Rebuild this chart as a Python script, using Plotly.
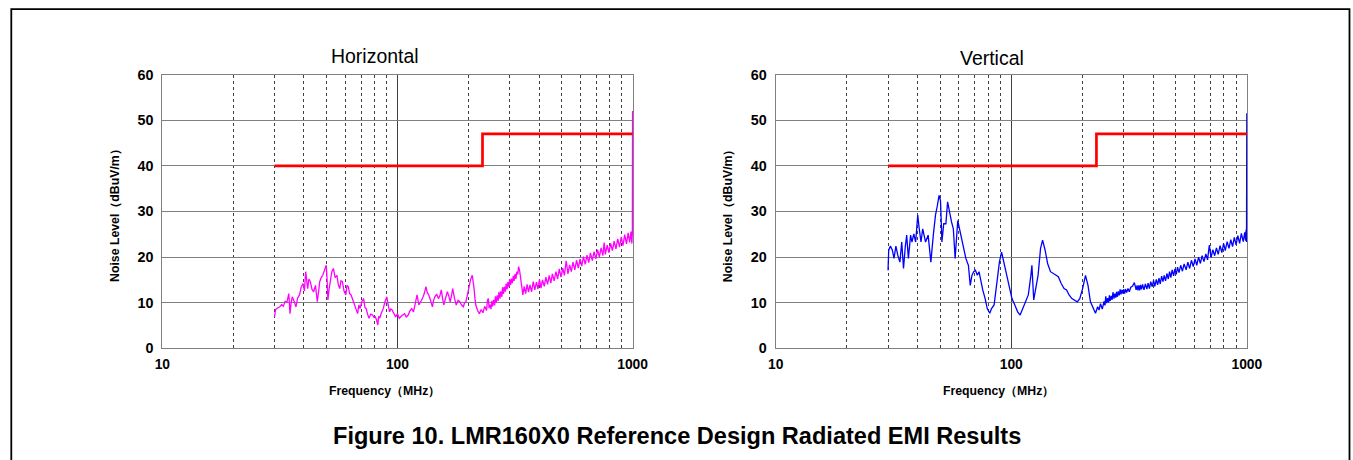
import plotly.graph_objects as go

# ---------------- data ----------------
limit_freq = [30, 230, 1000]
limit_level = [40, 47, 47]

h_points = [
    (30.0, 6.9), (30.3, 8.5), (30.8, 8.8), (31.6, 9.1), (32.2, 9.6), (32.7, 9.2), (33.3, 10.3), (33.9, 10.2),
    (34.5, 12.0), (34.9, 7.6), (35.3, 10.0), (35.7, 11.3), (36.3, 10.4), (37.0, 9.1), (37.6, 11.0), (38.3, 11.7),
    (39.0, 13.5), (39.7, 14.2), (40.2, 12.6), (40.7, 16.8), (41.1, 15.0), (41.5, 13.1), (42.0, 15.2), (42.6, 14.6),
    (43.3, 12.9), (44.0, 12.4), (44.8, 13.8), (45.6, 10.2), (46.2, 12.5), (46.7, 14.6), (47.4, 15.5), (48.1, 16.0),
    (49.0, 17.2), (49.8, 18.2), (50.2, 15.0), (50.6, 10.6), (51.2, 13.0), (51.9, 14.6), (52.6, 16.8), (53.4, 17.5),
    (54.3, 15.5), (55.3, 16.0), (56.0, 14.0), (56.8, 13.1), (57.5, 14.8), (58.3, 14.6), (59.3, 12.5), (60.3, 11.7),
    (61.0, 13.8), (61.8, 13.5), (62.6, 12.0), (63.5, 11.7), (64.6, 10.5), (65.8, 9.5), (66.8, 8.2), (67.7, 7.6),
    (68.5, 9.5), (69.3, 8.7), (70.5, 10.2), (71.8, 10.9), (72.7, 9.0), (73.6, 8.7), (74.6, 7.5), (75.7, 6.6),
    (77.0, 7.5), (78.3, 7.3), (79.4, 6.8), (80.5, 6.9), (81.5, 6.2), (82.5, 5.1), (83.2, 7.0), (84.0, 6.6),
    (85.5, 7.8), (87.0, 8.7), (88.5, 10.2), (90.1, 11.3), (91.3, 9.5), (92.6, 8.0), (93.7, 8.6), (94.9, 8.4),
    (96.6, 7.6), (98.3, 6.9), (100.0, 7.6), (101.8, 6.6), (104.5, 7.2), (107.2, 7.6), (109.0, 6.9), (111.1, 7.3),
    (113.0, 8.2), (115.0, 8.7), (117.0, 8.0), (119.1, 9.8), (121.2, 11.7), (123.3, 9.5), (125.5, 10.2), (127.7, 10.9),
    (130.0, 12.0), (132.2, 13.5), (134.0, 12.2), (135.9, 11.7), (138.3, 10.5), (140.8, 9.1), (142.5, 10.5), (144.2, 11.3),
    (146.8, 11.9), (149.4, 10.9), (151.5, 11.5), (153.6, 12.8), (155.5, 11.0), (157.4, 9.5), (160.2, 11.0), (163.0, 12.4),
    (165.3, 11.5), (167.6, 10.2), (169.7, 11.5), (171.8, 13.1), (174.8, 11.0), (177.8, 9.5), (181.0, 10.5), (184.1, 10.2),
    (187.4, 9.5), (190.7, 9.1), (193.0, 10.0), (195.4, 10.2), (198.0, 11.5), (200.9, 13.5), (204.5, 15.0), (208.1, 16.0),
    (209.8, 14.8), (211.8, 13.1), (213.5, 11.0), (215.4, 9.5), (219.2, 8.3), (223.1, 7.6), (227.0, 8.5), (231.0, 7.8),
    (235.0, 9.2), (239.3, 8.3), (241.4, 10.5), (243.5, 10.9), (245.5, 8.8), (247.7, 9.6), (250.0, 8.6), (252.0, 10.4),
    (254.0, 9.2), (256.5, 10.6), (259.0, 9.4), (261.0, 11.4), (263.0, 10.0), (265.6, 11.6), (268.0, 10.4), (270.3, 12.4),
    (273.0, 10.9), (275.1, 12.5), (278.0, 11.3), (280.0, 13.4), (282.5, 11.9), (284.8, 13.5), (287.5, 12.4), (290.0, 14.2),
    (292.5, 12.9), (295.0, 14.5), (298.0, 13.4), (300.0, 15.2), (303.0, 13.9), (305.4, 15.3), (308.0, 14.3), (311.0, 15.9),
    (313.5, 14.8), (316.2, 16.3), (319.0, 15.2), (322.0, 16.8), (325.0, 16.2), (327.5, 17.9), (330.5, 17.2), (333.2, 16.0),
    (337.0, 13.5), (341.5, 11.7), (346.0, 13.6), (351.0, 12.0), (356.0, 14.0), (361.0, 12.3), (366.0, 13.9), (372.0, 12.4),
    (378.0, 14.6), (384.0, 12.8), (390.0, 14.5), (396.0, 13.0), (402.0, 15.1), (408.0, 13.2), (414.0, 15.0), (421.0, 13.6),
    (428.0, 15.6), (435.0, 14.0), (442.0, 16.0), (449.0, 14.3), (456.0, 16.3), (464.0, 14.8), (472.0, 16.8), (480.0, 15.2),
    (488.0, 17.4), (496.0, 15.6), (505.0, 17.6), (513.0, 16.0), (522.0, 19.2), (531.0, 16.3), (540.0, 18.3), (549.0, 16.8),
    (558.0, 18.9), (568.0, 17.2), (578.0, 19.3), (588.0, 17.6), (598.0, 19.6), (608.0, 18.0), (618.0, 20.1), (629.0, 18.4),
    (640.0, 20.4), (651.0, 18.8), (662.0, 20.9), (674.0, 19.2), (686.0, 21.2), (698.0, 19.6), (710.0, 21.6), (722.0, 20.0),
    (735.0, 22.0), (748.0, 20.3), (757.0, 23.2), (766.0, 20.6), (780.0, 22.6), (793.0, 21.0), (807.0, 23.0), (821.0, 21.4),
    (835.0, 23.5), (850.0, 21.8), (865.0, 24.0), (880.0, 22.2), (895.0, 24.4), (910.0, 22.5), (926.0, 24.9), (942.0, 22.9),
    (958.0, 25.3), (972.0, 23.2), (985.0, 25.6), (993.0, 23.0), (998.0, 25.2), (1000.0, 52.0),
]

v_points = [
    (30.0, 17.1), (30.2, 21.5), (30.7, 22.4), (31.3, 21.5), (31.8, 19.7), (32.4, 22.4), (33.0, 20.4), (33.7, 18.9),
    (34.3, 23.3), (34.9, 17.5), (35.5, 22.2), (36.0, 24.8), (36.6, 19.7), (37.4, 24.8), (37.9, 23.3), (38.6, 25.1),
    (39.3, 23.3), (40.1, 29.2), (40.7, 26.2), (41.4, 23.3), (42.1, 26.2), (43.3, 23.3), (44.4, 24.8), (45.6, 18.9),
    (46.7, 24.8), (47.7, 29.2), (48.6, 31.3), (49.4, 33.5), (50.1, 32.4), (50.8, 23.3), (51.7, 27.3), (52.8, 27.3),
    (53.7, 32.1), (54.7, 29.5), (55.8, 27.7), (56.8, 26.2), (57.8, 19.7), (59.3, 28.0), (60.3, 26.2), (61.4, 24.1),
    (62.9, 21.9), (64.2, 19.7), (65.8, 18.2), (67.0, 13.8), (68.1, 16.0), (69.3, 16.8), (70.5, 17.1), (71.8, 16.0),
    (73.0, 16.8), (74.3, 14.6), (75.7, 12.8), (77.5, 10.9), (79.1, 8.7), (81.1, 7.7), (82.5, 8.7), (84.6, 9.5),
    (87.0, 14.6), (89.1, 18.9), (91.0, 21.1), (93.3, 18.7), (96.6, 15.3), (99.0, 12.8), (100.7, 10.9), (103.6, 9.5),
    (106.5, 8.0), (109.1, 7.3), (111.8, 8.7), (115.0, 10.2), (118.2, 11.7), (121.2, 16.0), (122.4, 18.2), (124.6, 10.6),
    (126.8, 13.1), (130.0, 16.0), (133.2, 21.9), (135.9, 23.7), (139.3, 21.5), (142.7, 18.6), (146.8, 16.8), (151.0, 16.4),
    (154.7, 16.0), (158.5, 15.7), (163.0, 14.2), (167.6, 13.1), (171.8, 12.8), (176.0, 11.7), (180.9, 10.9), (186.1, 10.6),
    (190.7, 10.2), (195.4, 10.9), (200.9, 13.1), (206.7, 16.0), (211.8, 13.8), (216.9, 10.2), (223.1, 8.7), (227.9, 7.7),
    (232.7, 9.1), (236.0, 8.4), (239.3, 9.8), (243.5, 8.6), (247.7, 10.3), (250.0, 9.4), (252.0, 11.4), (254.0, 9.9),
    (256.5, 11.0), (259.0, 10.0), (261.0, 11.6), (263.0, 10.4), (265.6, 11.5), (268.0, 10.6), (270.3, 12.3), (273.0, 10.9),
    (275.1, 12.0), (278.0, 11.1), (280.0, 12.4), (282.5, 11.3), (284.8, 12.5), (287.5, 11.6), (290.0, 12.9), (292.5, 11.8),
    (295.0, 12.8), (298.0, 12.0), (300.0, 12.9), (303.0, 12.0), (305.4, 13.0), (309.0, 12.2), (313.0, 13.1), (317.0, 12.4),
    (321.8, 13.4), (327.0, 13.6), (333.2, 14.4), (336.0, 13.3), (339.0, 12.8), (342.0, 13.8), (345.1, 12.7), (348.0, 13.8),
    (351.0, 12.7), (354.0, 13.9), (357.3, 12.9), (361.0, 14.0), (366.0, 12.8), (371.0, 14.1), (376.6, 13.0), (381.0, 14.3),
    (386.0, 13.1), (391.0, 14.6), (396.7, 13.5), (402.0, 14.9), (407.0, 13.6), (413.0, 15.1), (418.2, 13.9), (424.0, 15.4),
    (429.0, 14.1), (435.0, 15.8), (440.6, 14.6), (446.0, 16.0), (452.0, 14.8), (458.0, 16.4), (464.2, 15.2), (470.0, 16.8),
    (476.0, 15.5), (482.0, 17.2), (489.2, 15.9), (495.0, 17.4), (502.0, 16.2), (508.0, 17.8), (515.3, 16.6), (524.0, 18.2),
    (533.0, 16.9), (542.0, 18.5), (552.6, 17.2), (562.0, 18.9), (572.0, 17.5), (582.0, 19.3), (592.6, 17.9), (603.0, 19.6),
    (613.0, 18.2), (624.0, 20.0), (635.3, 18.6), (646.0, 20.3), (658.0, 19.0), (670.0, 20.7), (681.3, 19.4), (693.1, 22.6),
    (705.0, 19.9), (717.0, 21.6), (730.5, 20.3), (743.0, 22.0), (756.0, 20.6), (770.0, 22.5), (783.4, 21.0), (797.0, 23.0),
    (810.0, 21.4), (825.0, 23.4), (840.0, 21.9), (855.0, 23.8), (870.0, 22.3), (885.0, 24.3), (900.6, 22.7), (916.0, 24.7),
    (932.0, 23.0), (948.0, 25.2), (965.6, 23.4), (980.0, 25.4), (988.0, 23.6), (993.1, 26.0), (997.0, 23.3), (1000.0, 51.5),
]

h_freq = [p[0] for p in h_points]
h_level = [p[1] for p in h_points]
v_freq = [p[0] for p in v_points]
v_level = [p[1] for p in v_points]

panel_titles = ["Horizontal", "Vertical"]
x_tick_vals = [10, 100, 1000]
x_tick_text = ["10", "100", "1000"]
x_minor_vals = [20, 30, 40, 50, 60, 70, 80, 90, 200, 300, 400, 500, 600, 700, 800, 900]
y_title = "Noise Level\uff08dBuV/m\uff09"
x_title = "Frequency\uff08MHz\uff09"
caption = "Figure 10. LMR160X0 Reference Design Radiated EMI Results"

# ---------------- figure ----------------
W, H = 1370, 474
FONT = "Liberation Sans, Arial, Helvetica, sans-serif"
# calibration between the target picture and page pixels
SX, CX, SY, CY = 0.986, 5.2, 0.967, 6.4
FS = 1.0 / 0.976  # font compensation


def X(p):
    return (p - CX) / SX


def Y(p):
    return (p - CY) / SY


def px(p):
    return X(p) / W


def py(p):
    return 1 - Y(p) / H


fig = go.Figure()

panels = [
    dict(xa="x", ya="y", freq=h_freq, level=h_level, color="#FF00FF"),
    dict(xa="x2", ya="y2", freq=v_freq, level=v_level, color="#0000FF"),
]

for p in panels:
    fig.add_trace(go.Scatter(x=p["freq"], y=p["level"], mode="lines", xaxis=p["xa"], yaxis=p["ya"],
                             line=dict(color=p["color"], width=1.3), showlegend=False, hoverinfo="skip"))
    fig.add_trace(go.Scatter(x=limit_freq, y=limit_level, mode="lines", xaxis=p["xa"], yaxis=p["ya"],
                             line=dict(color="#FF0000", width=2.7, shape="hv"), showlegend=False, hoverinfo="skip"))

ydom = [py(347), py(73)]


def xaxis_cfg(x0, x1, anchor):
    return dict(
        type="log", range=[1, 3.002], domain=[px(x0), px(x1)], anchor=anchor,
        tickmode="array", tickvals=x_tick_vals, ticktext=x_tick_text,
        tickfont=dict(family=FONT, size=13.5 * FS, color="#000000", weight="bold"),
        showgrid=True, gridcolor="#404040", gridwidth=1,
        minor=dict(tickmode="array", tickvals=x_minor_vals, showgrid=True,
                   gridcolor="#404040", gridwidth=1, griddash="dot", ticks=""),
        showline=True, linecolor="#808080", linewidth=1.2, mirror=True,
        ticks="", zeroline=False, ticklabelstandoff=3,
    )


def yaxis_cfg(anchor):
    return dict(
        range=[0, 60], domain=ydom, anchor=anchor, tickmode="linear", tick0=0, dtick=10,
        tickfont=dict(family=FONT, size=14 * FS, color="#000000", weight="bold"),
        showgrid=True, gridcolor="#808080", gridwidth=1.4,
        showline=True, linecolor="#808080", linewidth=1.2, mirror=True,
        ticks="", zeroline=False, ticklabelstandoff=5,
    )


fig.update_layout(
    width=W, height=H, autosize=False,
    margin=dict(l=0, r=0, t=0, b=0),
    paper_bgcolor="white", plot_bgcolor="white",
    xaxis=xaxis_cfg(160, 632, "y"),
    yaxis=yaxis_cfg("x"),
    xaxis2=xaxis_cfg(775, 1248, "y2"),
    yaxis2=yaxis_cfg("x2"),
    showlegend=False,
)

# panel titles
for title, cx, cy in [(panel_titles[0], 373, 54), (panel_titles[1], 992, 56)]:
    fig.add_annotation(text=title, x=px(cx), y=py(cy), xref="paper", yref="paper",
                       showarrow=False, xanchor="center", yanchor="middle",
                       font=dict(family=FONT, size=19 * FS, color="#000000"))

# axis titles
for cx in [113, 728]:
    fig.add_annotation(text=y_title, x=px(cx), y=py(211), xref="paper", yref="paper",
                       showarrow=False, textangle=-90, xanchor="center", yanchor="middle",
                       font=dict(family=FONT, size=12 * FS, color="#000000", weight="bold"))
for cx in [383, 999]:
    fig.add_annotation(text=x_title, x=px(cx), y=py(390), xref="paper", yref="paper",
                       showarrow=False, xanchor="center", yanchor="middle",
                       font=dict(family=FONT, size=12 * FS, color="#000000", weight="bold"))

# caption
fig.add_annotation(text=caption, x=px(676), y=py(435), xref="paper", yref="paper",
                   showarrow=False, xanchor="center", yanchor="middle",
                   font=dict(family=FONT, size=23 * FS, color="#000000", weight="bold"))

# outer frame
fig.add_shape(type="rect", xref="paper", yref="paper",
              x0=px(8.5), x1=px(1350.5), y0=-0.2, y1=py(7.5),
              line=dict(color="#000000", width=1.8), fillcolor="rgba(0,0,0,0)", layer="above")

fig.write_html("out.html", config={"displayModeBar": False},
               post_script="document.body.style.margin='0px';")
